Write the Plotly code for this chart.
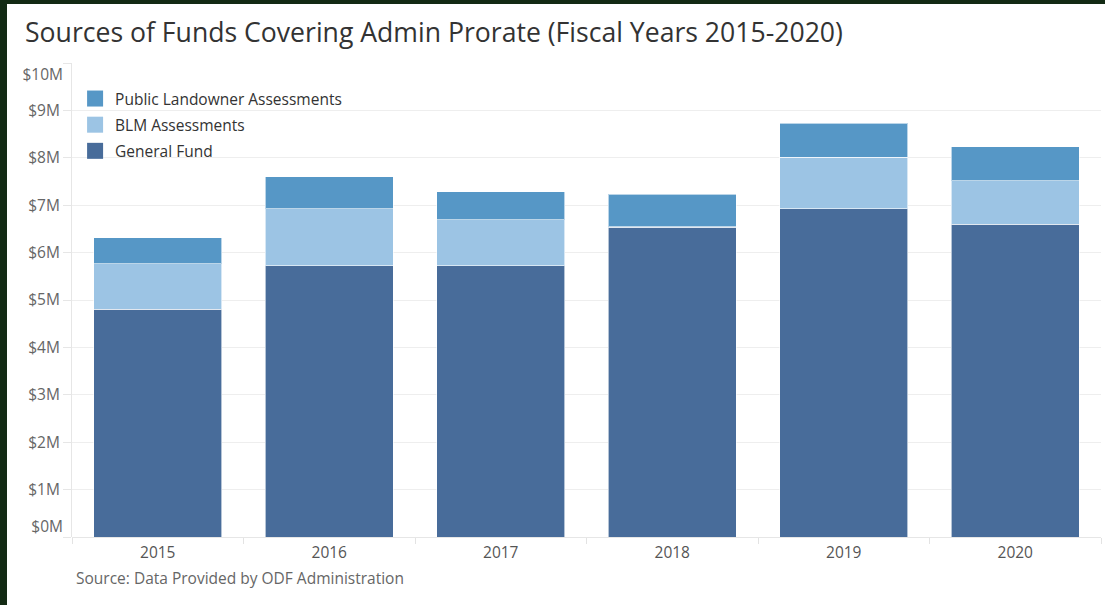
import plotly.graph_objects as go

years = ["2015", "2016", "2017", "2018", "2019", "2020"]
general_fund = [4.81, 5.72, 5.72, 6.53, 6.93, 6.60]
blm_assess = [0.95, 1.21, 0.97, 0.02, 1.08, 0.92]
public_land = [0.55, 0.67, 0.59, 0.68, 0.72, 0.71]

ytick_vals = [1, 2, 3, 4, 5, 6, 7, 8, 9]
ytick_text = ["$1M", "$2M", "$3M", "$4M", "$5M", "$6M", "$7M", "$8M", "$9M"]

C_GF = "#486c9a"
C_BLM = "#9cc4e4"
C_PLA = "#5697c6"
FONT = "Open Sans"

fig = go.Figure()
series = [("General Fund", general_fund, C_GF),
          ("BLM Assessments", blm_assess, C_BLM),
          ("Public Landowner Assessments", public_land, C_PLA)]
for name, vals, col in series:
    fig.add_trace(go.Bar(
        x=years, y=vals, name=name,
        marker=dict(color=col, line=dict(color="rgba(255,255,255,0.6)", width=1)),
        width=0.745, showlegend=False,
        hovertemplate="%{x}<br>" + name + ": $%{y:.2f}M<extra></extra>"))
# legend proxies with larger square swatches (top-down order as in reference)
for name, vals, col in reversed(series):
    fig.add_trace(go.Scatter(
        x=[None], y=[None], mode="markers", name=name, legendgroup=name,
        marker=dict(symbol="square", size=16, color=col), showlegend=True))

TICKFONT_Y = dict(family=FONT, size=15.5, color="#666666")

fig.update_layout(
    width=1105, height=605, autosize=False,
    barmode="stack",
    paper_bgcolor="#132a14", plot_bgcolor="white",
    margin=dict(l=72, r=4, t=63, b=68),
    font=dict(family=FONT, color="#555555"),
    title=dict(text="Sources of Funds Covering Admin Prorate (Fiscal Years 2015-2020)",
               xref="container", yref="container", x=25 / 1105, y=1 - 33 / 605,
               xanchor="left", yanchor="middle",
               font=dict(family=FONT, size=26.6, color="#333333")),
    legend=dict(x=0.003, y=0.96, xanchor="left", yanchor="top",
                traceorder="grouped", tracegroupgap=3,
                bgcolor="rgba(0,0,0,0)", itemsizing="trace",
                font=dict(family=FONT, size=15.5, color="#333333")),
    xaxis=dict(type="category", showgrid=False, ticks="outside", tickson="boundaries",
               ticklen=6, tickcolor="#e3e3e3", showline=False, ticklabelstandoff=4,
               tickfont=dict(family=FONT, size=15.5, color="#555555"), fixedrange=True),
    yaxis=dict(range=[0, 10], tickvals=list(range(0, 11)),
               ticktext=[""] + ytick_text + [""],
               showgrid=True, gridcolor="#eeeeee", gridwidth=1,
               ticks="outside", ticklen=8, tickcolor="#e6e6e6",
               showline=True, linecolor="#e6e6e6", linewidth=1,
               zeroline=True, zerolinecolor="#e6e6e6", zerolinewidth=1,
               tickfont=TICKFONT_Y, fixedrange=True),
    yaxis2=dict(range=[0, 10], overlaying="y", side="left", tickvals=[0], ticktext=["$0M"],
                showgrid=False, zeroline=False, ticks="", ticklabelshift=-10,
                ticklabelstandoff=8, tickfont=TICKFONT_Y, fixedrange=True),
    yaxis3=dict(range=[0, 10], overlaying="y", side="left", tickvals=[10], ticktext=["$10M"],
                showgrid=False, zeroline=False, ticks="", ticklabelshift=12,
                ticklabelstandoff=8, tickfont=TICKFONT_Y, fixedrange=True),
    shapes=[dict(type="rect", xref="paper", yref="paper", layer="below",
                 x0=-65 / 1029, x1=1.1, y0=-0.3, y1=533 / 474,
                 fillcolor="white", line=dict(width=0))],
    annotations=[dict(text="Source: Data Provided by ODF Administration",
                      xref="paper", yref="paper", x=2 / 1029, y=-41 / 474,
                      xanchor="left", yanchor="middle", showarrow=False,
                      font=dict(family=FONT, size=15.5, color="#666666"))],
)
# attach invisible traces so overlay axes render
fig.add_trace(go.Scatter(x=[None], y=[None], yaxis="y2", showlegend=False, hoverinfo="skip"))
fig.add_trace(go.Scatter(x=[None], y=[None], yaxis="y3", showlegend=False, hoverinfo="skip"))

fig.write_html("out.html", config={"displayModeBar": False},
               post_script="document.body.style.margin='0';")
